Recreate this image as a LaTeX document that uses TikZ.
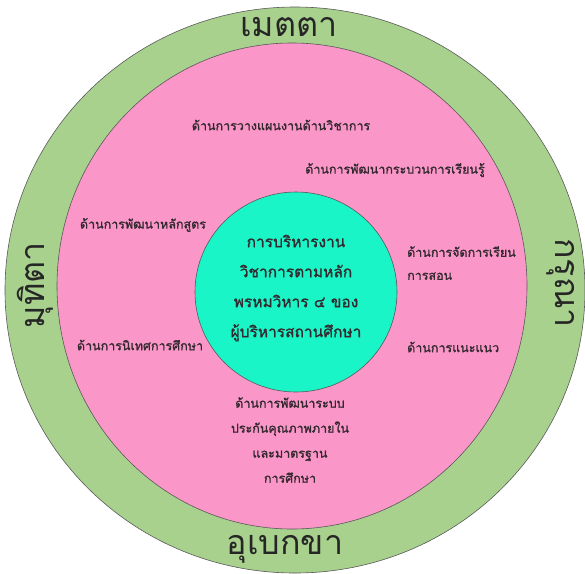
\documentclass[tikz,border=0pt]{standalone}
\usepackage{fontspec}
\newfontfamily\thaifont[Script=Thai]{Loma}
\newfontfamily\thaiheavy[Script=Thai,FakeBold=1.2]{Loma}
\usetikzlibrary{positioning}
\definecolor{ringgreen}{HTML}{A9D18E}
\definecolor{ringpink}{HTML}{FA96C8}
\definecolor{coremint}{HTML}{1AF5C8}
\definecolor{labeltext}{HTML}{33292F}

\begin{document}
\begin{tikzpicture}[x=1pt,y=-1pt,
  ring/.style={draw=black!65,line width=0.6pt},
  virtue/.style={font=\thaifont\fontsize{34}{40}\selectfont,text=black!85,inner sep=0pt},
  aspect/.style={font=\thaiheavy\fontsize{12.5}{24}\selectfont,text=labeltext,inner sep=0pt,align=left},
  core/.style={font=\thaiheavy\fontsize{15.5}{30}\selectfont,text=labeltext,inner sep=0pt,align=center}]
 \useasboundingbox (0,0) rectangle (585,573);
 \begin{scope}
  \clip (0,0) rectangle (585,573);
  % rings
  \draw[ring,fill=ringgreen] (295,290) ellipse [x radius=290pt,y radius=283pt];
  \draw[ring,fill=ringpink] (292,286) ellipse [x radius=235pt,y radius=243pt];
  \draw[ring,fill=coremint] (296,292) ellipse [x radius=101pt,y radius=100pt];
 \end{scope}
 % four virtues
 \node[virtue] (metta) at (289,27) {เมตตา};
 \node[virtue] (upekkha) at (285,549) {อุเบกขา};
 \node[virtue,rotate=90] (mudita) at (35,285) {มุทิตา};
 \node[virtue,rotate=-90] (karuna) at (561,283) {กรุณา};
 % centre
 \node[core] (centre) at (296,288) {การบริหารงาน\\วิชาการตามหลัก\\พรหมวิหาร ๔ ของ\\ผู้บริหารสถานศึกษา};
 % aspects
 \node[aspect] (plan) at (281,125) {ด้านการวางแผนงานด้านวิชาการ};
 \node[aspect] (learn) at (395,170) {ด้านการพัฒนากระบวนการเรียนรู้};
 \node[aspect] (course) at (143,225) {ด้านการพัฒนาหลักสูตร};
 \node[aspect,anchor=west,font=\thaiheavy\fontsize{12.5}{23}\selectfont] (teach) at (407,263) {ด้านการจัดการเรียน\\การสอน};
 \node[aspect] (supervise) at (140,345) {ด้านการนิเทศการศึกษา};
 \node[aspect,anchor=west] (guide) at (407,347) {ด้านการแนะแนว};
 \node[aspect,align=center,font=\thaiheavy\fontsize{12.5}{25}\selectfont] (quality) at (290,440) {ด้านการพัฒนาระบบ\\ประกันคุณภาพภายใน\\และมาตรฐาน\\การศึกษา};
\end{tikzpicture}
\end{document}
